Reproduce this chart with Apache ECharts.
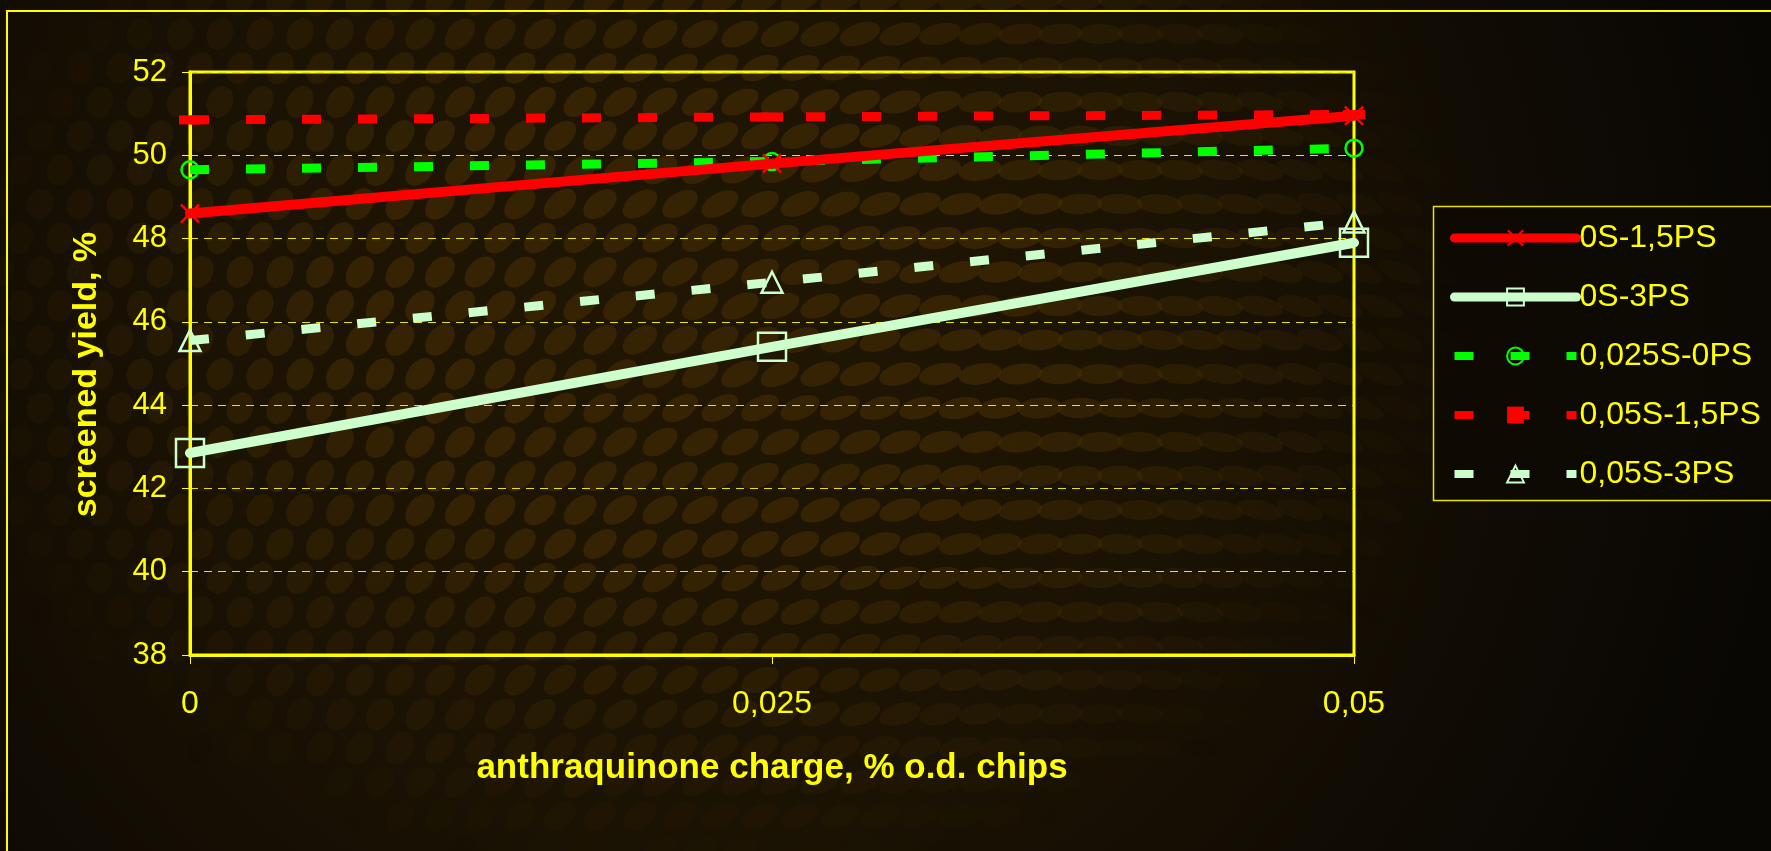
<!DOCTYPE html>
<html>
<head>
<meta charset="utf-8">
<script src="https://cdn.jsdelivr.net/npm/echarts@6/dist/echarts.min.js"></script>
<style>
  html, body { margin: 0; padding: 0; background: #0c0904; }
  #chart { width: 1771px; height: 851px; }
</style>
</head>
<body>
<div id="chart"></div>
<script>
// anthraquinone charge, % o.d. chips
const xValues = [0, 0.025, 0.05];
const seriesNames = ['0S-1,5PS', '0S-3PS', '0,025S-0PS', '0,05S-1,5PS', '0,05S-3PS'];
// screened yield, %
const yield0S15PS = [48.6, 49.8, 50.95];
const yield0S3PS = [42.85, 45.4, 47.9];
const yield0025S0PS = [49.65, 49.85, 50.17];
const yield005S15PS = [50.85, 50.92, 50.98];
const yield005S3PS = [45.55, 46.95, 48.4];
const yMin = 38, yMax = 52, yStep = 2;
const xMin = 0, xMax = 0.05, xStep = 0.025;

const W = 1771, H = 851;
const YELLOW = '#ffff00';
const FONT = '"Liberation Sans", Arial, sans-serif';

// Dark brown cell-textured backdrop
function makeBackdrop(w, h) {
  const c = document.createElement('canvas');
  c.width = w; c.height = h;
  const g = c.getContext('2d');
  const base = g.createRadialGradient(700, 330, 40, 700, 330, 1100);
  base.addColorStop(0, '#211603');
  base.addColorStop(0.45, '#1a1203');
  base.addColorStop(0.75, '#100b04');
  base.addColorStop(1, '#090704');
  g.fillStyle = base;
  g.fillRect(0, 0, w, h);
  const px = 40, py = 34;
  for (let row = -2; row * py < h + 60; row++) {
    for (let col = -3; col * px < w + 80; col++) {
      const cx = col * px + (row % 2 ? px / 2 : 0);
      const cy = row * py;
      const dx = (cx - 700) / 780, dy = (cy - 320) / 560;
      let k = 1 - Math.sqrt(dx * dx + dy * dy);
      if (k <= 0) continue;
      k = Math.min(1, k * 1.8);
      const t = Math.min(1, Math.max(0, (cx - 150) / 1300));
      const rot = -1.25 + t * 1.7;
      const major = 16 + t * 9;
      const minor = 13 - t * 4;
      g.save();
      g.translate(cx, cy);
      g.rotate(rot);
      g.beginPath();
      g.ellipse(0, 0, major, minor, 0, 0, Math.PI * 2);
      g.fillStyle = 'rgba(72,48,4,' + (0.55 * k).toFixed(3) + ')';
      g.fill();
      g.restore();
    }
  }
  return c;
}

const crossSymbol = 'path://M0,1.8L1.8,0L20,18.2L18.2,20ZM18.2,0L20,1.8L1.8,20L0,18.2Z';
const pairs = arr => xValues.map((x, i) => [x, arr[i]]);
const legendWidths = [9, 9, 8, 8, 8];

const chart = echarts.init(document.getElementById('chart'), null, { renderer: 'canvas' });

chart.setOption({
  animation: false,
  backgroundColor: 'transparent',
  textStyle: { fontFamily: FONT },
  graphic: [
    { type: 'image', z: -10, silent: true, left: 0, top: 0,
      style: { image: makeBackdrop(W, H), x: 0, y: 0, width: W, height: H } },
    { type: 'rect', z: -5, silent: true,
      shape: { x: 7, y: 11, width: 1900, height: 1000 },
      style: { fill: 'none', stroke: YELLOW, lineWidth: 2 } },
    { type: 'rect', z: -4, silent: true,
      shape: { x: 1433.5, y: 206.5, width: 500, height: 294 },
      style: { fill: 'rgba(14,10,3,0.75)', stroke: '#e6e600', lineWidth: 1.5 } }
  ],
  grid: {
    left: 190, right: W - 1354, top: 72, bottom: H - 655,
    show: true, borderColor: YELLOW, borderWidth: 3, backgroundColor: 'transparent'
  },
  legend: {
    data: seriesNames.map((n, i) => ({ name: n, lineStyle: { width: legendWidths[i] } })),
    orient: 'vertical',
    left: 1445, top: 217,
    itemWidth: 122, itemHeight: 21, itemGap: 27,
    textStyle: { color: YELLOW, fontSize: 32, fontFamily: FONT, padding: [0, 0, 0, -2] }
  },
  xAxis: {
    type: 'value', min: xMin, max: xMax, interval: xStep,
    name: 'anthraquinone charge, % o.d. chips',
    nameLocation: 'middle', nameGap: 96,
    nameTextStyle: { color: YELLOW, fontSize: 35, fontWeight: 'bold', fontFamily: FONT },
    axisLine: { lineStyle: { color: YELLOW, width: 3 } },
    axisTick: { show: true, length: 9, lineStyle: { color: YELLOW, width: 1 } },
    axisLabel: { color: YELLOW, fontSize: 32, margin: 33, fontFamily: FONT,
      formatter: v => String(+v.toFixed(3)).replace('.', ',') },
    splitLine: { show: false }
  },
  yAxis: {
    type: 'value', min: yMin, max: yMax, interval: yStep,
    name: 'screened yield, %',
    nameLocation: 'middle', nameGap: 86, nameRotate: 90,
    nameTextStyle: { color: YELLOW, fontSize: 34, fontWeight: 'bold', fontFamily: FONT,
      padding: [0, 22, 0, 0] },
    axisLine: { show: true, lineStyle: { color: YELLOW, width: 3 } },
    axisTick: { show: true, length: 8, lineStyle: { color: YELLOW, width: 1 } },
    axisLabel: { color: YELLOW, fontSize: 31, margin: 23, fontFamily: FONT },
    splitLine: { show: true, lineStyle: { color: '#e6e600', width: 1.2, type: [8, 6] } }
  },
  series: [
    {
      name: seriesNames[0], type: 'line', data: pairs(yield0S15PS), z: 6,
      symbol: crossSymbol, symbolSize: 20,
      lineStyle: { color: '#ff0000', width: 10, cap: 'round' },
      itemStyle: { color: '#ff0000' }
    },
    {
      name: seriesNames[1], type: 'line', data: pairs(yield0S3PS), z: 6,
      symbol: 'rect', symbolSize: 28,
      lineStyle: { color: '#ccffcc', width: 10, cap: 'round' },
      itemStyle: { color: 'rgba(0,0,0,0)', borderColor: '#ccffcc', borderWidth: 2.5 }
    },
    {
      name: seriesNames[2], type: 'line', data: pairs(yield0025S0PS), z: 5,
      symbol: 'circle', symbolSize: 17,
      lineStyle: { color: '#00ff00', width: 9, type: [19, 37], cap: 'butt' },
      itemStyle: { color: 'rgba(0,0,0,0)', borderColor: '#00ff00', borderWidth: 2.5 }
    },
    {
      name: seriesNames[3], type: 'line', data: pairs(yield005S15PS), z: 5,
      symbol: 'rect', symbolSize: [22, 9],
      lineStyle: { color: '#ff0000', width: 9, type: [19, 37], cap: 'butt' },
      itemStyle: { color: '#ff0000' }
    },
    {
      name: seriesNames[4], type: 'line', data: pairs(yield005S3PS), z: 5,
      symbol: 'triangle', symbolSize: 21,
      lineStyle: { color: '#ccffcc', width: 9, type: [19, 37], cap: 'butt' },
      itemStyle: { color: 'rgba(0,0,0,0)', borderColor: '#ccffcc', borderWidth: 2.5 }
    }
  ]
});
</script>
</body>
</html>
